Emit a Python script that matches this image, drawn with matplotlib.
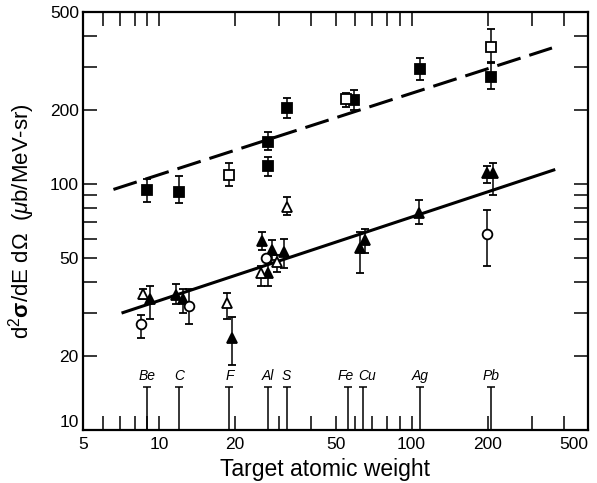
import numpy as np
import matplotlib
matplotlib.use("Agg")
import matplotlib.pyplot as plt
from matplotlib.ticker import FixedLocator, NullFormatter

plt.rcParams["font.family"] = ["Liberation Sans", "DejaVu Sans"]
plt.rcParams["mathtext.fontset"] = "custom"
plt.rcParams["mathtext.rm"] = "Liberation Sans"
plt.rcParams["mathtext.it"] = "Liberation Sans:italic"
plt.rcParams["mathtext.bf"] = "Liberation Sans:bold"

# quadrados cheios
sq_fill_x = [9, 12, 27, 27, 32, 59, 108, 207]
sq_fill_y = [94.5, 92.8, 148, 118, 204, 219, 293, 272]
sq_fill_lo = [84.5, 84, 137, 108, 186, 200, 265, 243]
sq_fill_hi = [105, 108, 163, 129, 223, 241, 325, 310]

# quadrados vazios
sq_open_x = [19, 55, 207]
sq_open_y = [108.8, 221, 360]
sq_open_lo = [98, 206, 313]
sq_open_hi = [122, 235, 426]

# triangulos cheios
tri_fill_x = [9.2, 11.7, 12.4, 19.5, 25.6, 28.1, 27.1, 31.4, 62.3, 65.2, 107, 199, 210]
tri_fill_y = [34.1, 35.4, 34, 23.7, 58.6, 54, 43.5, 52.9, 54.9, 59.2, 76.2, 111, 111]
tri_fill_lo = [28.2, 32.6, 30, 18.3, 54, 49.1, 38.5, 45.6, 43.5, 52.5, 68.8, 101, 90]
tri_fill_hi = [38.5, 39.3, 37.5, 28.8, 63.8, 59.2, 48, 60, 63.8, 65.6, 86, 118, 122]

# triangulos vazios
tri_open_x = [8.65, 18.6, 25.4, 29.4, 32]
tri_open_y = [35.7, 32.8, 43.5, 48.2, 80.6]
tri_open_lo = [34, 28.2, 38.5, 43.9, 75]
tri_open_hi = [37.5, 36.1, 46.6, 51.5, 88.5]

# circulos vazios
circ_x = [8.5, 13.1, 26.6, 199]
circ_y = [27, 31.9, 50, 62.6]
circ_lo = [23.7, 27, 50, 46.4]
circ_hi = [29.4, 37.5, 50, 78.4]

# retas ajustadas
upper_fit_x = [6.6, 360]
upper_fit_y = [95, 357]
lower_fit_x = [7.2, 366]
lower_fit_y = [30, 114]

# alvos
elements = ["Be", "C", "F", "Al", "S", "Fe", "Cu", "Ag", "Pb"]
weights = [9, 12, 19, 27, 32, 56, 64, 108, 207]
element_line_top = 15
element_label_y = 16.5

x_ticks = [5, 10, 20, 50, 100, 200, 500]
x_minor = [6, 7, 8, 9, 30, 40, 60, 70, 80, 90, 300, 400]
y_ticks = [10, 20, 50, 100, 200, 500]
y_minor = [30, 40, 60, 70, 80, 90, 300, 400]


def draw_series(ax, x, y, lo, hi, marker, filled):
    y = np.array(y)
    yerr = [y - np.array(lo), np.array(hi) - y]
    ax.errorbar(
        x, y, yerr=yerr,
        fmt=marker,
        color="black",
        markerfacecolor="black" if filled else "white",
        markeredgecolor="black",
        markersize=7,
        markeredgewidth=1.3,
        elinewidth=1.1,
        capsize=3,
        capthick=1.1,
        zorder=3,
    )


fig = plt.figure(figsize=(5.97, 4.83), dpi=100)
ax = fig.add_axes([83 / 597, 1 - 430 / 483, (588 - 83) / 597, (430 - 12) / 483])

ax.set_xscale("log")
ax.set_yscale("log")
ax.set_xlim(5, 500)
ax.set_ylim(10, 500)

ax.plot(upper_fit_x, upper_fit_y, color="black", linewidth=2.2,
        dashes=(8, 3), zorder=2)
ax.plot(lower_fit_x, lower_fit_y, color="black", linewidth=2.2, zorder=2)

draw_series(ax, sq_fill_x, sq_fill_y, sq_fill_lo, sq_fill_hi, "s", True)
draw_series(ax, sq_open_x, sq_open_y, sq_open_lo, sq_open_hi, "s", False)
draw_series(ax, tri_fill_x, tri_fill_y, tri_fill_lo, tri_fill_hi, "^", True)
draw_series(ax, tri_open_x, tri_open_y, tri_open_lo, tri_open_hi, "^", False)
draw_series(ax, circ_x, circ_y, circ_lo, circ_hi, "o", False)

ax.vlines(weights, 10, element_line_top, color="black", linewidth=1.1)
ax.plot(weights, [element_line_top] * len(weights), linestyle="none",
        marker="_", markersize=6, markeredgewidth=1.1, color="black")

# Fe e Cu ficam colados, afasta um pouco os rótulos
label_shift = {"Fe": -1.5, "Cu": 3.5}
for name, w in zip(elements, weights):
    ax.annotate(name, (w, element_label_y),
                xytext=(label_shift.get(name, 0), 0), textcoords="offset points",
                ha="center", va="center", fontsize=10, style="italic")

ax.xaxis.set_major_locator(FixedLocator(x_ticks))
ax.xaxis.set_minor_locator(FixedLocator(x_minor))
ax.set_xticklabels([str(t) for t in x_ticks])
ax.xaxis.set_minor_formatter(NullFormatter())

ax.yaxis.set_major_locator(FixedLocator(y_ticks))
ax.yaxis.set_minor_locator(FixedLocator(y_minor))
ax.set_yticklabels([str(t) for t in y_ticks])
ax.yaxis.set_minor_formatter(NullFormatter())

ax.tick_params(which="both", direction="in", length=10, width=1.1,
               top=True, right=True, labelsize=12.5, pad=3)
ax.tick_params(axis="x", which="both", pad=5)

# o "500" do eixo x fica encostado na borda, o "10" do eixo y fica um pouco acima
ax.get_xticklabels()[-1].set_horizontalalignment("right")
ax.get_yticklabels()[0].set_verticalalignment("bottom")

for spine in ax.spines.values():
    spine.set_linewidth(1.6)

ax.set_xlabel("Target atomic weight", fontsize=16.5)
ax.xaxis.set_label_coords(0.48, -0.068)
ax.set_ylabel(r"d$^2\mathbf{\sigma}$/dE d$\Omega$  ($\mu$b/MeV-sr)",
              fontsize=16, labelpad=9)

fig.savefig("out.png", dpi=100)
